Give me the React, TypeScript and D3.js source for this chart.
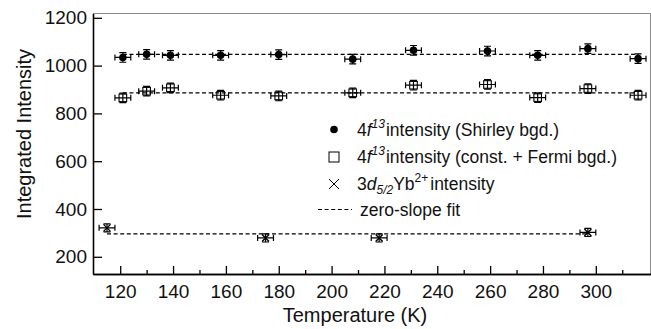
import React, { useEffect, useRef } from "react";
import * as d3 from "d3";

// temperatures (K) and intensities
const temps = [121, 130, 139, 158, 180, 208, 231, 259, 278, 297, 316];
const shirleyVals = [1034, 1047, 1043, 1043, 1046, 1027, 1064, 1061, 1043, 1071, 1029];
const fermiVals = [865, 893, 907, 876, 873, 886, 918, 921, 866, 904, 876];
const ybTemps = [115, 175, 218, 297];
const ybVals = [321, 279, 279, 302];
const fitVals = [1047, 886, 296]; // zero-slope fits: shirley, fermi, yb

const tErr = 3;
const iErr = 20;
const ybErr = 17;

const xTicks = [120, 140, 160, 180, 200, 220, 240, 260, 280, 300];
const xMinorTicks = [130, 150, 170, 190, 210, 230, 250, 270, 290, 310];
const yTicks = [200, 400, 600, 800, 1000, 1200];

const FONT = "'Liberation Sans', Arial, Helvetica, sans-serif";

export default function App() {
  const ref = useRef<SVGSVGElement>(null);

  useEffect(() => {
    const W = 651,
      H = 329;
    const left = 93,
      right = 650.5,
      top = 13.5,
      bottom = 274;

    const svg = d3.select(ref.current);
    svg.selectAll("*").remove();
    svg.attr("width", W).attr("height", H);

    const x = d3.scaleLinear().domain([109.7, 320.7]).range([left, right]);
    const y = d3.scaleLinear().domain([128, 1218]).range([bottom, top]);

    // top / right frame (light)
    svg
      .append("path")
      .attr("d", `M${left},${top}H${right}V${bottom}`)
      .attr("fill", "none")
      .attr("stroke", "#8a8a8a")
      .attr("stroke-width", 1);

    // x axis
    const gx = svg.append("g").attr("transform", `translate(0,${bottom})`);
    gx.call(
      d3
        .axisBottom(x)
        .tickValues(xTicks)
        .tickFormat(d3.format("d"))
        .tickSizeInner(-8)
        .tickSizeOuter(0)
        .tickPadding(10.5)
    );
    gx.append("g").call(
      d3.axisBottom(x).tickValues(xMinorTicks).tickSizeInner(-4).tickSizeOuter(0).tickFormat(() => "")
    );
    gx.selectAll(".domain").attr("stroke", "#000").attr("stroke-width", 1.6);
    gx.selectAll("line").attr("stroke", "#000").attr("stroke-width", 1.3);
    gx.selectAll("text").attr("font-size", 19).attr("font-family", FONT).attr("fill", "#111");

    // y axis
    const gy = svg.append("g").attr("transform", `translate(${left},0)`);
    gy.call(
      d3
        .axisLeft(y)
        .tickValues(yTicks)
        .tickFormat(d3.format("d"))
        .tickSizeInner(-9)
        .tickSizeOuter(0)
        .tickPadding(6)
    );
    gy.selectAll(".domain").attr("stroke", "#000").attr("stroke-width", 1.6);
    gy.selectAll("line").attr("stroke", "#000").attr("stroke-width", 1.3);
    gy.selectAll("text").attr("font-size", 19).attr("font-family", FONT).attr("fill", "#111");

    // axis titles
    svg
      .append("text")
      .attr("x", 355)
      .attr("y", 321.5)
      .attr("text-anchor", "middle")
      .attr("font-size", 20)
      .attr("font-family", FONT)
      .attr("fill", "#111")
      .text("Temperature (K)");
    svg
      .append("text")
      .attr("transform", "translate(31,134) rotate(-90)")
      .attr("text-anchor", "middle")
      .attr("font-size", 20)
      .attr("font-family", FONT)
      .attr("fill", "#111")
      .text("Integrated Intensity");

    // zero-slope fits
    const fits = [
      { ts: temps, v: fitVals[0] },
      { ts: temps, v: fitVals[1] },
      { ts: ybTemps, v: fitVals[2] },
    ];
    svg
      .append("g")
      .selectAll("line")
      .data(fits)
      .enter()
      .append("line")
      .attr("x1", (d) => x(d3.min(d.ts)!))
      .attr("x2", (d) => x(d3.max(d.ts)!))
      .attr("y1", (d) => y(d.v))
      .attr("y2", (d) => y(d.v))
      .attr("stroke", "#000")
      .attr("stroke-width", 1.3)
      .attr("stroke-dasharray", "4,2.6");

    // error bars
    const errBars = (ts: number[], vs: number[], ve: number) => {
      const g = svg.append("g").attr("stroke", "#000").attr("stroke-width", 1.2).attr("fill", "none");
      ts.forEach((t, i) => {
        const cx = x(t),
          cy = y(vs[i]);
        const x0 = x(t - tErr),
          x1 = x(t + tErr);
        const y0 = y(vs[i] - ve),
          y1 = y(vs[i] + ve);
        g.append("path").attr(
          "d",
          `M${x0},${cy}H${x1}M${x0},${cy - 3}V${cy + 3}M${x1},${cy - 3}V${cy + 3}` +
            `M${cx},${y0}V${y1}M${cx - 3.5},${y0}H${cx + 3.5}M${cx - 3.5},${y1}H${cx + 3.5}`
        );
      });
    };
    errBars(temps, shirleyVals, iErr);
    errBars(temps, fermiVals, iErr);
    errBars(ybTemps, ybVals, ybErr);

    // markers
    svg
      .append("g")
      .selectAll("circle")
      .data(temps)
      .enter()
      .append("circle")
      .attr("cx", (d) => x(d))
      .attr("cy", (d, i) => y(shirleyVals[i]))
      .attr("r", 3.8)
      .attr("fill", "#000");
    svg
      .append("g")
      .selectAll("rect")
      .data(temps)
      .enter()
      .append("rect")
      .attr("x", (d) => x(d) - 3.8)
      .attr("y", (d, i) => y(fermiVals[i]) - 3.8)
      .attr("width", 7.6)
      .attr("height", 7.6)
      .attr("fill", "none")
      .attr("stroke", "#000")
      .attr("stroke-width", 1.1);
    svg
      .append("g")
      .selectAll("path")
      .data(ybTemps)
      .enter()
      .append("path")
      .attr("d", (d, i) => {
        const cx = x(d),
          cy = y(ybVals[i]);
        return `M${cx - 3.5},${cy - 3.5}L${cx + 3.5},${cy + 3.5}M${cx - 3.5},${cy + 3.5}L${cx + 3.5},${cy - 3.5}`;
      })
      .attr("stroke", "#000")
      .attr("stroke-width", 1.4);

    // legend
    const lg = svg.append("g").attr("font-family", FONT).attr("fill", "#111");
    const mx = 334,
      tx = 357;
    const rows = [129.5, 157, 184, 209.5];
    lg.append("circle").attr("cx", mx).attr("cy", rows[0]).attr("r", 3.8).attr("fill", "#000");
    lg.append("rect")
      .attr("x", mx - 5)
      .attr("y", rows[1] - 5)
      .attr("width", 10)
      .attr("height", 10)
      .attr("fill", "none")
      .attr("stroke", "#000")
      .attr("stroke-width", 1);
    lg.append("path")
      .attr("d", `M${mx - 5},${rows[2] - 5}L${mx + 5},${rows[2] + 5}M${mx - 5},${rows[2] + 5}L${mx + 5},${rows[2] - 5}`)
      .attr("stroke", "#000")
      .attr("stroke-width", 1);
    lg.append("line")
      .attr("x1", 318)
      .attr("x2", 352)
      .attr("y1", rows[3])
      .attr("y2", rows[3])
      .attr("stroke", "#000")
      .attr("stroke-width", 1.2)
      .attr("stroke-dasharray", "4,2.6");

    const fs = 17.5;
    const line4f = (row: number, rest: string) => {
      const t = lg.append("text").attr("x", tx).attr("y", row + 6).attr("font-size", fs);
      t.append("tspan").text("4");
      t.append("tspan").attr("font-style", "italic").text("f");
      t.append("tspan").attr("font-size", 12).attr("font-style", "italic").attr("dy", -8).text("13");
      t.append("tspan").attr("dy", 8).attr("dx", 1).text(rest);
    };
    line4f(rows[0], "intensity (Shirley bgd.)");
    line4f(rows[1], "intensity (const. + Fermi bgd.)");

    const t3 = lg.append("text").attr("x", tx).attr("y", rows[2] + 6).attr("font-size", fs);
    t3.append("tspan").text("3");
    t3.append("tspan").attr("font-style", "italic").text("d");
    t3.append("tspan").attr("font-size", 12).attr("font-style", "italic").attr("dy", 4).text("5/2");
    t3.append("tspan").attr("dy", -4).text("Yb");
    t3.append("tspan").attr("font-size", 12).attr("dy", -8).text("2+");
    t3.append("tspan").attr("dy", 8).attr("dx", 2).text("intensity");

    lg.append("text").attr("x", tx + 3).attr("y", rows[3] + 6).attr("font-size", fs).text("zero-slope fit");
  }, []);

  return (
    <div style={{ position: "absolute", left: 0, top: 0, background: "#fff" }}>
      <svg ref={ref} style={{ display: "block" }} />
    </div>
  );
}
